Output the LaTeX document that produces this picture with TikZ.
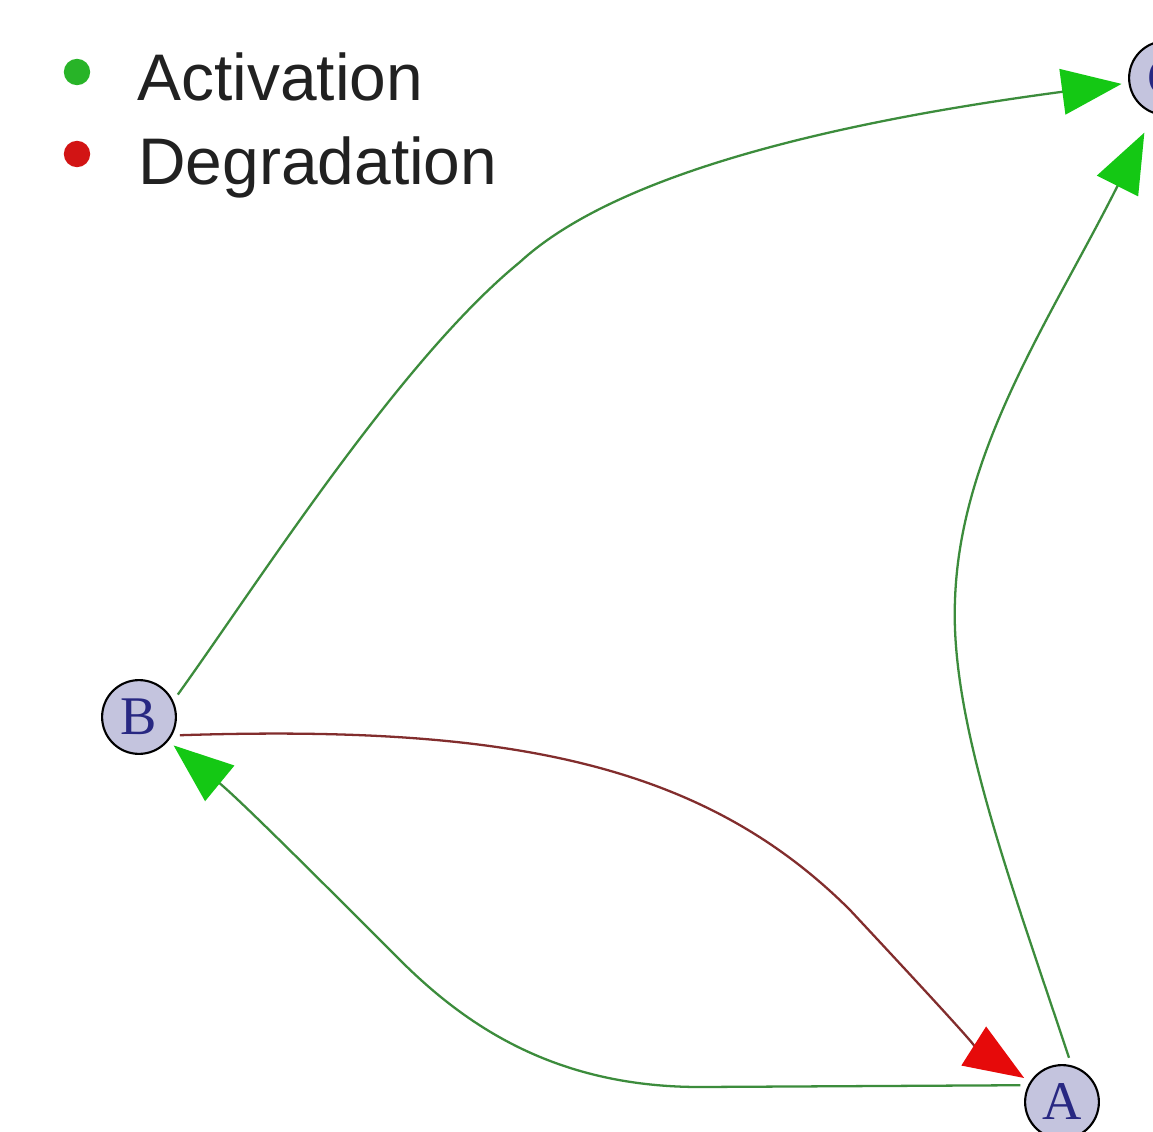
\documentclass[tikz,border=0pt]{standalone}
\usepackage{fontspec}
\setmainfont{Liberation Sans}
\newfontfamily\nodefont{Liberation Serif}
\usetikzlibrary{arrows.meta}

\definecolor{edgegreen}{RGB}{60,140,60}
\definecolor{tipgreen}{RGB}{20,200,20}
\definecolor{edgered}{RGB}{130,45,45}
\definecolor{tipred}{RGB}{230,10,10}
\definecolor{dotgreen}{RGB}{40,180,40}
\definecolor{dotred}{RGB}{210,20,20}
\definecolor{nodefill}{RGB}{196,196,222}
\definecolor{nodetext}{RGB}{40,40,130}

\tikzset{
  species/.style={circle, draw=black, line width=1.2pt, fill=nodefill,
    minimum size=42pt, inner sep=0pt, outer sep=4.5pt,
    font=\nodefont\fontsize{31}{31}\selectfont, text=nodetext},
  act/.style={draw=edgegreen, line width=1.3pt,
    -{Triangle[length=34pt,width=26pt,color=tipgreen,fill=tipgreen]}},
  degr/.style={draw=edgered, line width=1.3pt,
    -{Triangle[length=34pt,width=26pt,color=tipred,fill=tipred]}},
  legdot/.style={circle, minimum size=15pt, inner sep=0pt},
  legtext/.style={anchor=base west, inner sep=0pt,
    font=\fontsize{37.5}{37.5}\selectfont, text=black!87}
}

\begin{document}
\begin{tikzpicture}[x=0.02cm, y=-0.02cm]
  % canvas
  \useasboundingbox (0,0) rectangle (1153,1132);
  \clip (0,0) rectangle (1153,1132);
  \fill[white] (0,0) rectangle (1153,1132);

  % legend
  \node[legdot, fill=dotgreen] (dotact) at (77,72) {};
  \node[legtext] (legact) at (137,101) {Activation};
  \node[legdot, fill=dotred] (dotdeg) at (77,154) {};
  \node[legtext] (legdeg) at (138,184) {Degradation};

  % species
  \node[species] (B) at (139,717) {B};
  \node[species] (A) at (1062,1102) {A};
  \node[species] (C) at (1166,78) {C};

  % B activates C
  \draw[act] (B.30) .. controls (260,580) and (400,360) .. (520,262)
    .. controls (620,170) and (850,120) .. (C);

  % A activates C
  \draw[act, shorten >=8pt] (A.81) .. controls (1010,880) and (950,720) .. (955,600)
    .. controls (960,450) and (1050,320) .. (C.250);

  % A activates B
  \draw[act] (A.158) -- (700,1087) .. controls (560,1087) and (470,1030) .. (400,960)
    .. controls (320,880) and (240,800) .. (B);

  % B degrades A
  \draw[degr] (B.336) .. controls (500,725) and (700,760) .. (850,910)
    .. controls (920,985) and (980,1050) .. (A);
\end{tikzpicture}
\end{document}
